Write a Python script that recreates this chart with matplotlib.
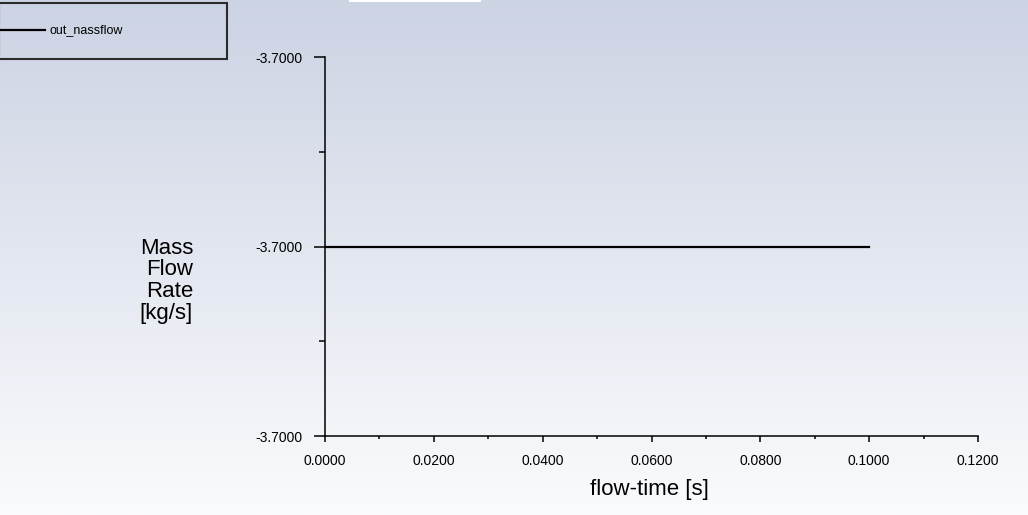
import numpy as np
import matplotlib
matplotlib.use("Agg")
import matplotlib.pyplot as plt
from matplotlib.lines import Line2D
from matplotlib.patches import Rectangle
from matplotlib.ticker import FixedLocator, FormatStrFormatter

# -----------------------------------
# Data
# -----------------------------------
series_name = "out_nassflow"
flow_time = [0.0, 0.02, 0.04, 0.06, 0.08, 0.1]
mass_flow = [-3.7, -3.7, -3.7, -3.7, -3.7, -3.7]

x_ticks = [0.0, 0.02, 0.04, 0.06, 0.08, 0.1, 0.12]
y_ticks = [-3.70001, -3.7, -3.69999]

plt.rcParams['font.family'] = ['Liberation Sans', 'DejaVu Sans']

W, H = 1028, 515
fig = plt.figure(figsize=(W / 100, H / 100), dpi=100)

# background gradient (top bluish-grey to near white)
bg = fig.add_axes([0, 0, 1, 1], zorder=-10)
bg.axis("off")
top = np.array([204, 211, 227]) / 255
bot = np.array([250, 251, 253]) / 255
t = np.linspace(0, 1, 256)[:, None]
grad = top * (1 - t) + bot * t
bg.imshow(grad[:, None, :], aspect="auto", extent=[0, 1, 0, 1])
bg.set_xlim(0, 1)
bg.set_ylim(0, 1)

# small white strip at the top edge
fig.patches.append(Rectangle((349 / W, 1 - 2 / H), 132 / W, 2 / H,
                             transform=fig.transFigure, facecolor="white",
                             edgecolor="none"))

# -----------------------------------
# Main axes
# -----------------------------------
ax = fig.add_axes([325 / W, 1 - 436 / H, 653 / W, 379 / H])
ax.patch.set_alpha(0)
ax.plot(flow_time, mass_flow, color="black", lw=1.6)

ax.set_xlim(x_ticks[0], x_ticks[-1])
ax.set_ylim(y_ticks[0], y_ticks[-1])
ax.xaxis.set_major_locator(FixedLocator(x_ticks))
ax.xaxis.set_minor_locator(FixedLocator(np.arange(0.01, 0.12, 0.02)))
ax.yaxis.set_major_locator(FixedLocator(y_ticks))
ax.yaxis.set_minor_locator(FixedLocator([-3.700005, -3.699995]))
ax.xaxis.set_major_formatter(FormatStrFormatter("%.4f"))
ax.yaxis.set_major_formatter(FormatStrFormatter("%.4f"))

for s in ["top", "right"]:
    ax.spines[s].set_visible(False)
for s in ["left", "bottom"]:
    ax.spines[s].set_linewidth(1.1)
    ax.spines[s].set_color("black")

ax.tick_params(axis="x", which="major", length=4, width=1.1, pad=9,
               labelsize=10)
ax.tick_params(axis="x", which="minor", length=2.5, width=1.1)
ax.tick_params(axis="y", which="major", length=8, width=1.1, pad=8,
               labelsize=10)
ax.tick_params(axis="y", which="minor", length=4, width=1.1)

ax.set_xlabel("flow-time [s]", fontsize=16)
ax.xaxis.set_label_coords(0.497, -0.14)
ax.xaxis.label.set_va("center")
ax.set_ylabel("Mass\nFlow\nRate\n[kg/s]", fontsize=16, rotation=0,
              ha="right", va="center", multialignment="right",
              linespacing=1.04)
ax.yaxis.set_label_coords(-0.202, 0.41)

# -----------------------------------
# Legend box (top-left, drawn like the solver's legend)
# -----------------------------------
fig.patches.append(Rectangle((-1 / W, 1 - 59 / H), 228 / W, 56 / H,
                             transform=fig.transFigure, facecolor="none",
                             edgecolor="#2b2b2b", lw=1.5))
fig.add_artist(Line2D([0, 45 / W], [1 - 30 / H, 1 - 30 / H],
                      transform=fig.transFigure, color="black", lw=1.6))
fig.text(49 / W, 1 - 30 / H, series_name, fontsize=9, va="center",
         ha="left")

fig.savefig("out.png", dpi=100)
